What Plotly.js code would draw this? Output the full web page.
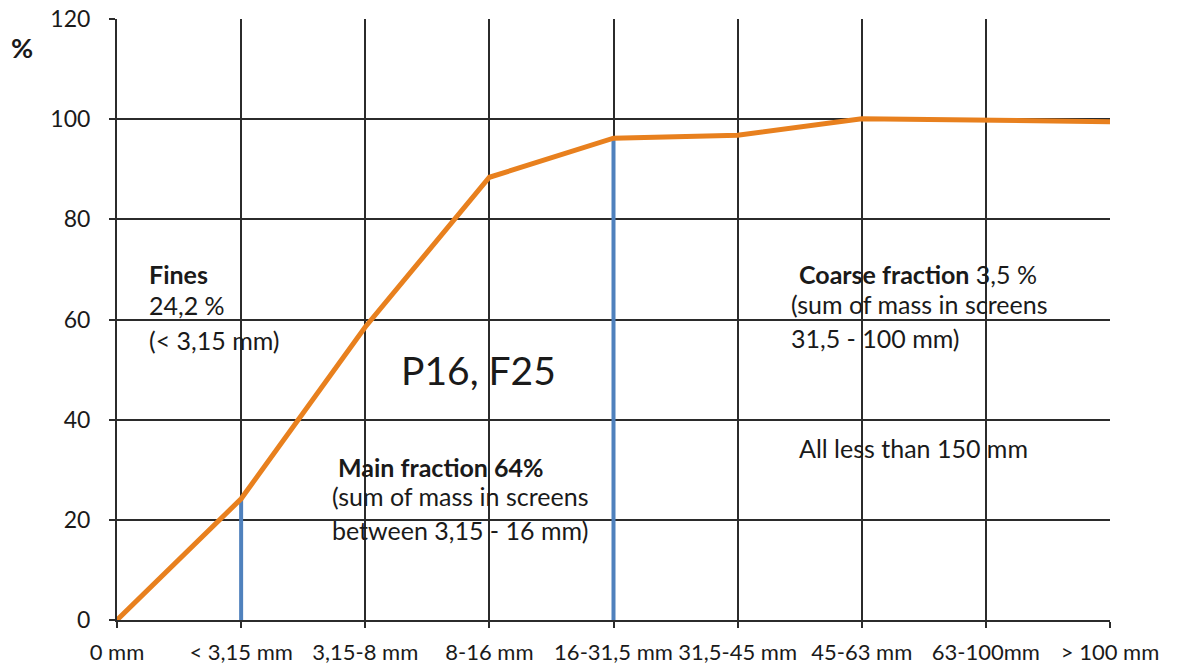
<!DOCTYPE html>
<html>
<head>
<meta charset="utf-8">
<script src="https://cdn.plot.ly/plotly-3.0.1.min.js"></script>
<style>html,body{margin:0;padding:0;background:#fff;}#chart{width:1177px;height:667px;}</style>
</head>
<body>
<div id="chart"></div>
<script>
const sizeClasses = ["0 mm", "< 3,15 mm", "3,15-8 mm", "8-16 mm", "16-31,5 mm", "31,5-45 mm", "45-63 mm", "63-100mm", "> 100 mm"];
const cumulativePercent = [0, 24.2, 58.5, 88.4, 96.2, 96.8, 100.1, 99.8, 99.5];
const markerClasses = ["< 3,15 mm", "16-31,5 mm"];
const yTicks = [0, 20, 40, 60, 80, 100, 120];

const FONT = "Lato, 'Open Sans', sans-serif";
const TXT = "#1a1a1a";

const traces = [];
markerClasses.forEach(c => {
  const v = cumulativePercent[sizeClasses.indexOf(c)];
  traces.push({x: [c, c], y: [0, v], type: "scatter", mode: "lines",
    line: {color: "#4F81BD", width: 4}, hoverinfo: "skip", showlegend: false});
});
traces.push({x: sizeClasses, y: cumulativePercent, type: "scatter", mode: "lines",
  line: {color: "#E8801E", width: 5}, showlegend: false});

function ann(text, x, y, size, anchor, xref) {
  return {text: text, x: x, y: y, xref: xref || "x", yref: xref === "paper" ? "paper" : "y",
    showarrow: false, xanchor: anchor || "left", yanchor: "middle",
    font: {family: FONT, size: size, color: TXT}};
}

const S = 25;
const annotations = [
  ann("<b>%</b>", -0.0957, 0.952, 27, "center", "paper"),
  ann("<b>Fines</b>", 0.242, 69.1, S),
  ann("24,2 %", 0.242, 62.9, S),
  ann("(< 3,15 mm)", 0.242, 55.9, S),
  ann("P16, F25", 2.909, 49.9, 39, "center"),
  ann("<b>Main fraction 64%</b>", 1.765, 30.6, S),
  ann("(sum of mass in screens", 1.716, 24.8, S),
  ann("between 3,15 - 16 mm)", 1.716, 18.0, S),
  ann("<b>Coarse fraction</b> 3,5 %", 5.479, 69.1, S),
  ann("(sum of mass in screens", 5.415, 63.1, S),
  ann("31,5 - 100 mm)", 5.415, 56.3, S),
  ann("All less than 150 mm", 5.479, 34.3, S)
];

const layout = {
  width: 1177, height: 667,
  margin: {l: 117, r: 67, t: 19, b: 47},
  paper_bgcolor: "#fff", plot_bgcolor: "#fff",
  font: {family: FONT, color: TXT, size: 23},
  xaxis: {type: "category", categoryorder: "array", categoryarray: sizeClasses,
    range: [0, 8], showgrid: true, gridcolor: "#2b2b2b", gridwidth: 2,
    showline: true, linecolor: "#2b2b2b", linewidth: 2,
    ticks: "outside", ticklen: 6, tickwidth: 2, tickcolor: "#2b2b2b",
    tickangle: 0, automargin: false, ticklabelstandoff: 6,
    tickfont: {family: FONT, size: 22, color: TXT}, zeroline: false, fixedrange: true},
  yaxis: {range: [0, 120], tickvals: yTicks, ticktext: yTicks.map(String),
    showgrid: true, gridcolor: "#2b2b2b", gridwidth: 2,
    showline: true, linecolor: "#2b2b2b", linewidth: 2,
    ticks: "outside", ticklen: 6, tickwidth: 2, tickcolor: "#2b2b2b",
    ticklabelstandoff: 14, automargin: false,
    tickfont: {family: FONT, size: 23, color: TXT}, zeroline: false, fixedrange: true},
  annotations: annotations
};

Plotly.newPlot("chart", traces, layout, {displayModeBar: false, staticPlot: true});
</script>
</body>
</html>
